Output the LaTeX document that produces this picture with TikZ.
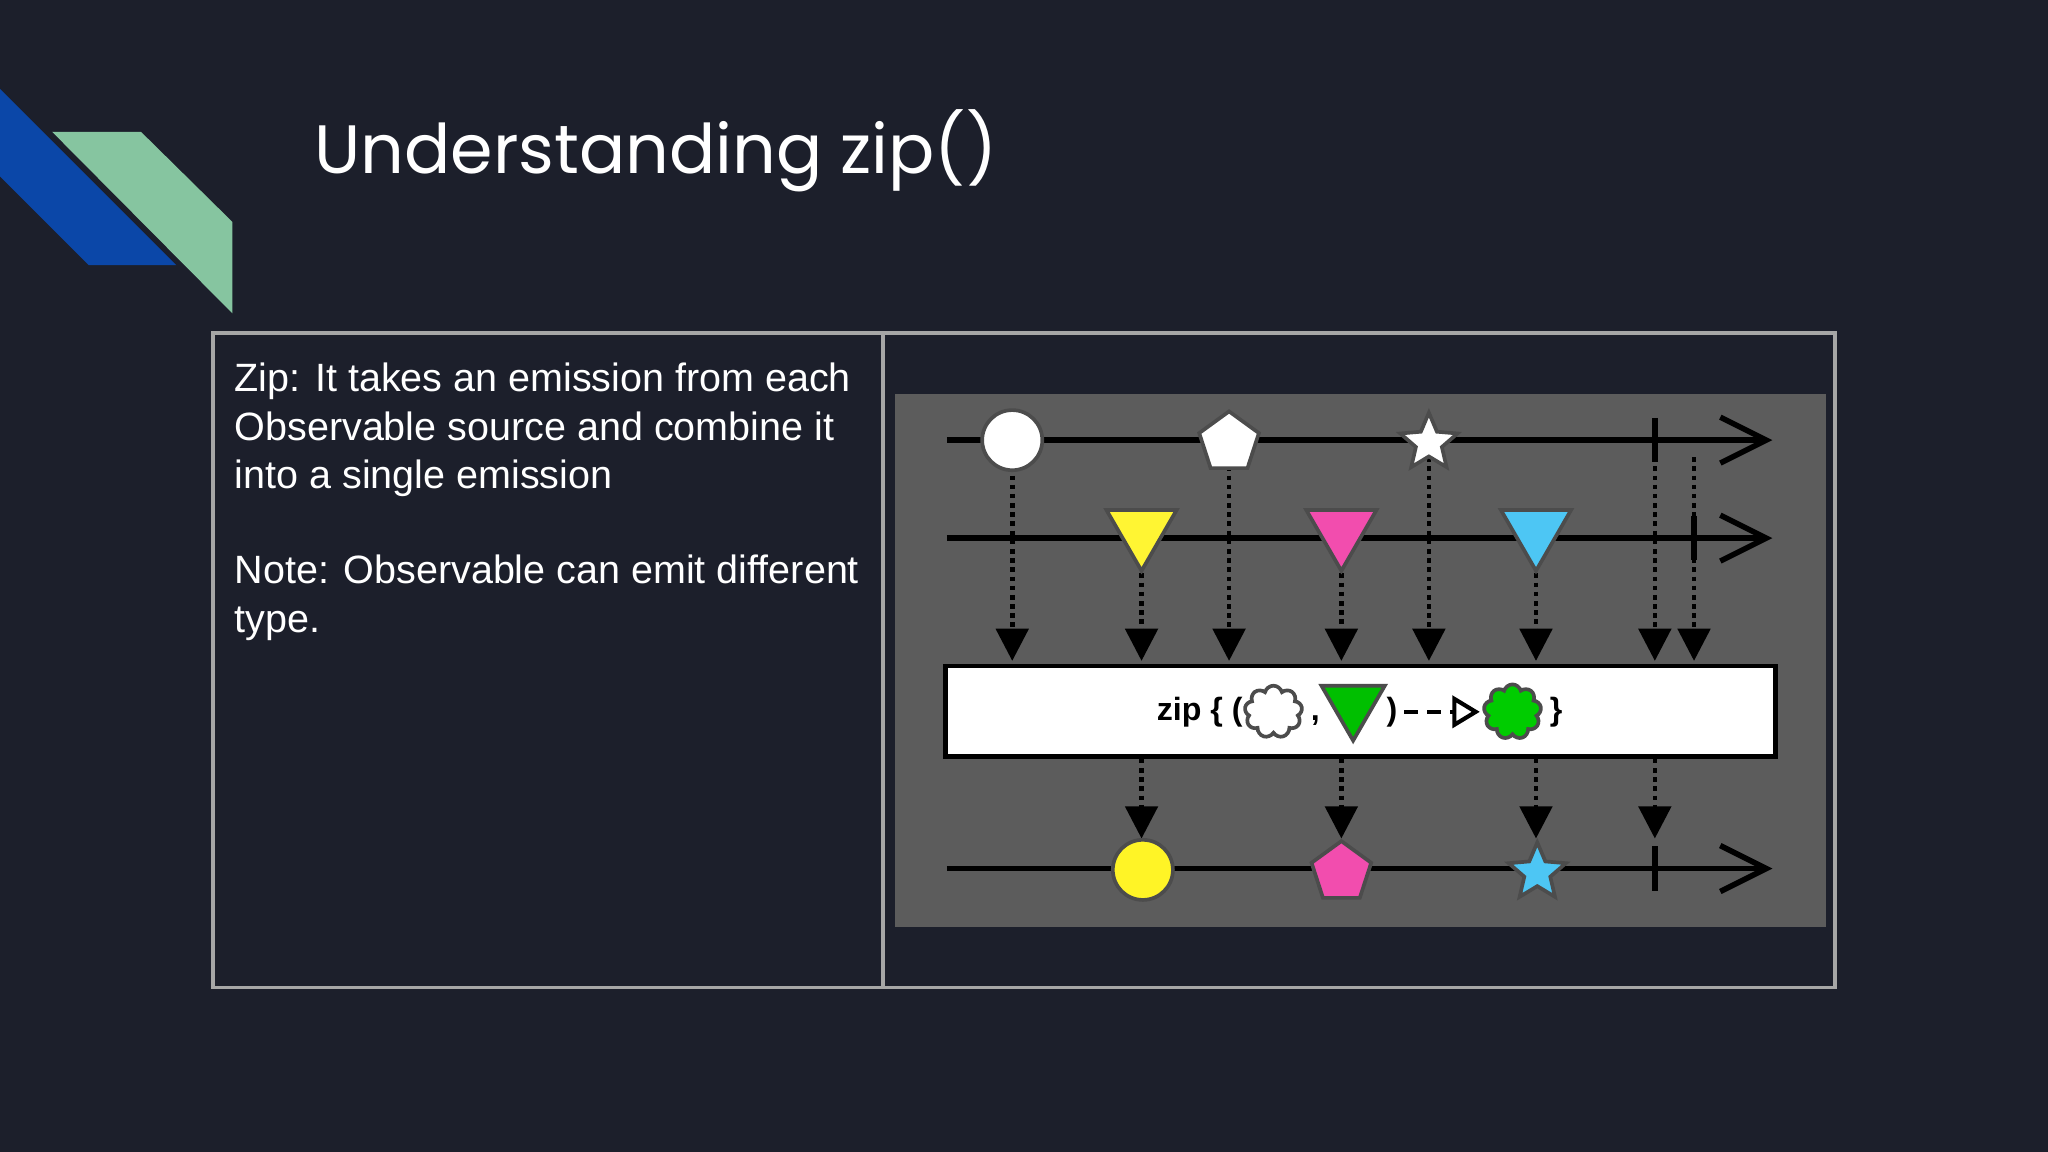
\documentclass[tikz,border=0pt]{standalone}
\usepackage{fontspec}
\setmainfont{Liberation Sans}
\newfontfamily\titlefont{Poppins}
\usetikzlibrary{shapes.geometric,shapes.symbols,arrows.meta}
\definecolor{bg}{HTML}{1C1F2B}
\definecolor{sblue}{HTML}{0B47A8}
\definecolor{sgreen}{HTML}{86C5A0}
\definecolor{panel}{HTML}{5C5C5C}
\tikzset{
 tl/.style={draw=black,line width=1.2pt,-{Straight Barb[length=10pt,width=10pt]}},
 dn/.style={draw=black,line width=1pt,densely dotted,-{Triangle[length=7pt,width=7pt]}},
 shp/.style={draw=black!70,line width=0.8pt,inner sep=0},
 tri/.style={shp,regular polygon,regular polygon sides=3,shape border rotate=180,minimum size=0.62cm},
 pent/.style={shp,regular polygon,regular polygon sides=5,minimum size=0.48cm},
 str/.style={shp,star,star points=5,star point ratio=2.2,minimum size=0.46cm},
 txt/.style={text=white,anchor=base west,inner sep=0,font=\fontsize{8.6pt}{10pt}\selectfont},
 ztx/.style={inner sep=0,font=\bfseries\fontsize{7pt}{8pt}\selectfont},
 tk/.style={draw=black,line width=1.2pt}
}
\begin{document}
\begin{tikzpicture}[x=0.01cm,y=-0.01cm]
\fill[bg] (0,0) rectangle (1568,882);
\useasboundingbox (0,0) rectangle (1568,882);
\fill[sblue] (0,68) -- (135,203) -- (68,203) -- (0,135) -- cycle;
\fill[sgreen] (40,101) -- (108,101) -- (178,170) -- (178,240) -- cycle;
\node[text=white,anchor=base west,inner sep=0,font=\titlefont\fontsize{14.9pt}{17pt}\selectfont] (title) at (240,133) {Understanding zip()};
\draw[gray!70,line width=0.8pt] (163,255) rectangle (1405,756);
\draw[gray!70,line width=0.8pt] (676,255) -- (676,756);
\node[txt] (t1) at (179,300) {Zip: It takes an emission from each};
\node[txt] (t2) at (179,337) {Observable source and combine it};
\node[txt] (t3) at (179,374) {into a single emission};
\node[txt] (t4) at (179,447) {Note: Observable can emit different};
\node[txt] (t5) at (179,484) {type.};
\fill[panel] (685,302) rectangle (1398,710);
% timelines
\coordinate (a1) at (725,337); \coordinate (b1) at (1357,337);
\coordinate (a2) at (725,412); \coordinate (b2) at (1357,412);
\coordinate (a3) at (725,665); \coordinate (b3) at (1357,665);
\draw[tl] (a1) -- (b1); \draw[tl] (a2) -- (b2); \draw[tl] (a3) -- (b3);
\draw[tk] (1267,320) -- (1267,354);
\draw[tk] (1297,395) -- (1297,429);
\draw[tk] (1267,648) -- (1267,682);
% dotted arrows
\foreach \x in {775,941,1094,1267,1297}
  \draw[dn] (\x,350) -- (\x,506);
\foreach \x in {874,1027,1176}
  \draw[dn] (\x,425) -- (\x,506);
\foreach \x in {874,1027,1176,1267}
  \draw[dn] (\x,581) -- (\x,642);
% top emissions
\node[shp,circle,fill=white,minimum size=0.46cm] (c1) at (775,337) {};
\node[pent,fill=white] (p1) at (941,339) {};
\node[str,fill=white] (s1) at (1094,339) {};
\node[tri,fill=yellow!80!white] (y1) at (874,406) {};
\node[tri,fill=magenta!70!white] (m1) at (1027,406) {};
\node[tri,fill=cyan!70!white] (cy1) at (1176,406) {};
% zip box
\node[draw=black,line width=1pt,fill=white,minimum width=6.35cm,minimum height=0.69cm,inner sep=0] (zb) at (1041.5,544.5) {};
\node[ztx,anchor=base east] (zt) at (952,552) {zip \{ (};
\node[shp,cloud,cloud puffs=9,fill=white,minimum width=0.44cm,minimum height=0.40cm,aspect=1] (cl1) at (975,545) {};
\node[ztx,anchor=base] (cm) at (1007,552) {,};
\node[tri,fill=green!75!black,minimum size=0.56cm] (g1) at (1036,539) {};
\node[ztx,anchor=base west] (zp) at (1061,552) {)};
\coordinate (d1) at (1075,545);
\coordinate (d2) at (1133,545);
\draw[line width=0.9pt,densely dashed,-{Triangle[open,length=6pt,width=7pt]}] (d1) -- (d2);
\node[shp,cloud,cloud puffs=9,fill=green!80!black,minimum width=0.44cm,minimum height=0.42cm,aspect=1] (cl2) at (1158,545) {};
\node[ztx,anchor=base west] (zc) at (1186,552) {\}};
% bottom emissions
\node[shp,circle,fill=yellow!85!white,minimum size=0.46cm] (c2) at (875,666) {};
\node[pent,fill=magenta!70!white] (p2) at (1027,668) {};
\node[str,fill=cyan!70!white] (s2) at (1177,668) {};
\end{tikzpicture}
\end{document}
